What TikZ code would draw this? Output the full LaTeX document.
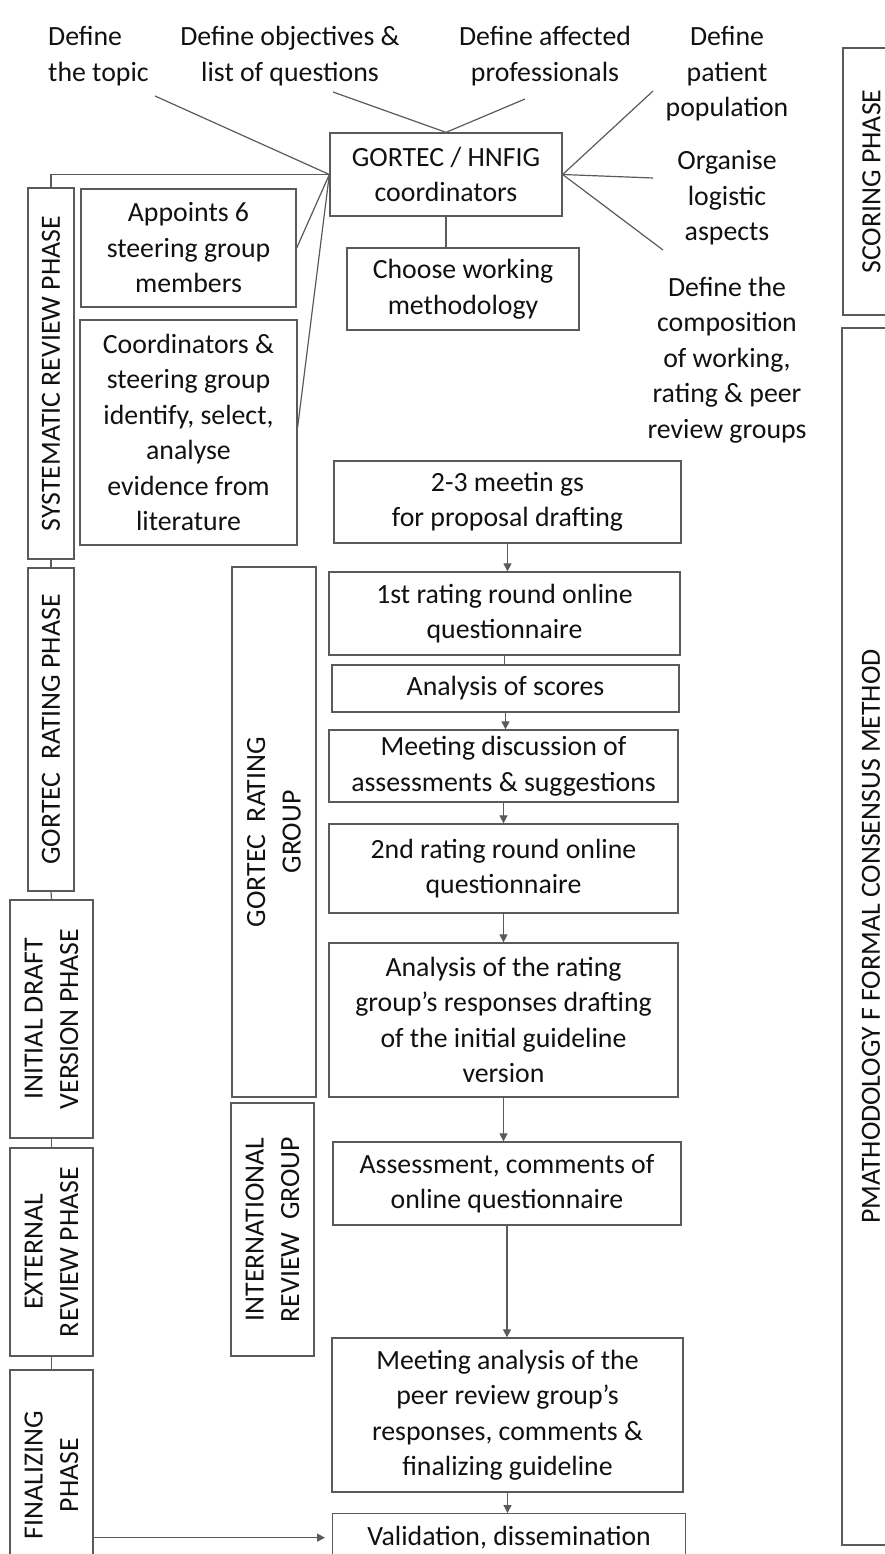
\documentclass[tikz,border=0pt]{standalone}
\usepackage{fontspec}
\setmainfont{Carlito}
\usetikzlibrary{arrows.meta,calc}
\definecolor{ln}{HTML}{5A5A5A}
\definecolor{tx}{HTML}{111111}
\begin{document}
\begin{tikzpicture}[x=1pt,y=-1pt,
  every node/.style={font=\fontsize{27.8}{35.5}\selectfont, text=tx},
  box/.style={draw=ln, line width=1.3pt, align=center, inner sep=2pt},
  lbl/.style={align=center, inner sep=0pt},
  con/.style={draw=ln, line width=1.2pt},
  arr/.style={con, -{Triangle[length=8pt,width=8pt]}}]
\useasboundingbox (0,0) rectangle (885,1554);
\clip (0,0) rectangle (885,1554);

% top labels
\node[lbl, align=left, anchor=west] (topic) at (48,56) {Define\\the topic};
\node[lbl] (obj) at (290,56) {Define objectives \&\\list of questions};
\node[lbl] (aff) at (545,56) {Define affected\\professionals};
\node[lbl] (pat) at (727,74) {Define\\patient\\population};
\node[lbl] (org) at (727,198) {Organise\\logistic\\aspects};
\node[lbl] (comp) at (727,360) {Define the\\composition\\of working,\\rating \& peer\\review groups};

% central boxes
\node[box, minimum width=232pt, minimum height=83pt] (gortec) at (446,174.5) {GORTEC / HNFIG\\coordinators};
\node[box, minimum width=232pt, minimum height=82pt] (choose) at (463,289) {Choose working\\methodology};
\node[box, minimum width=215pt, minimum height=118pt] (appoints) at (188.5,248) {Appoints 6\\steering group\\members};
\node[box, minimum width=217pt, minimum height=225pt] (coord) at (188.5,432.5) {Coordinators \&\\steering group\\identify, select,\\analyse\\evidence from\\literature};

% phase boxes (left)
\node[box, rotate=90, minimum width=371pt, minimum height=46pt] (sysphase) at (51,373.5) {SYSTEMATIC REVIEW PHASE};
\node[box, rotate=90, minimum width=323pt, minimum height=46pt] (ratphase) at (51,729.5) {GORTEC\ \ RATING PHASE};
\node[box, rotate=90, minimum width=238pt, minimum height=83pt] (initphase) at (51.5,1019) {INITIAL DRAFT\\VERSION PHASE};
\node[box, rotate=90, minimum width=208pt, minimum height=83pt] (extphase) at (51.5,1252) {EXTERNAL\\REVIEW PHASE};
\node[box, rotate=90, minimum width=210pt, minimum height=83pt] (finphase) at (51.5,1475) {FINALIZING\\PHASE};

% group boxes
\node[box, rotate=90, minimum width=530pt, minimum height=84pt] (ratgroup) at (274,832) {GORTEC\ \ RATING\\GROUP};
\node[box, rotate=90, minimum width=253pt, minimum height=83pt] (intgroup) at (272.5,1229.5) {INTERNATIONAL\\REVIEW\ \ GROUP};

% right column steps
\node[box, minimum width=347pt, minimum height=82pt] (meet23) at (507.5,502) {2-3 meetin gs\\for proposal drafting};
\node[box, minimum width=351pt, minimum height=83pt] (first) at (504.5,613.5) {1st rating round online\\questionnaire};
\node[box, minimum width=347pt, minimum height=47pt] (scores) at (505.5,688.5) {Analysis of scores};
\node[box, minimum width=349pt, minimum height=72pt] (meetdisc) at (503.5,766) {Meeting discussion of\\assessments \& suggestions};
\node[box, minimum width=349pt, minimum height=89pt] (second) at (503.5,868.5) {2nd rating round online\\questionnaire};
\node[box, minimum width=349pt, minimum height=154pt] (analysis) at (503.5,1020) {Analysis of the rating\\group’s responses drafting\\of the initial guideline\\version};
\node[box, minimum width=348pt, minimum height=83pt] (assess) at (507,1183.5) {Assessment, comments of\\online questionnaire};
\node[box, minimum width=351pt, minimum height=154pt] (meetpeer) at (507.5,1415) {Meeting analysis of the\\peer review group’s\\responses, comments \&\\finalizing guideline};
\node[box, anchor=north west, minimum width=353pt, minimum height=48pt] (valid) at (332,1513) {Validation, dissemination};

% far right boxes
\node[box, rotate=90, minimum width=267pt, minimum height=57pt] (scoring) at (871.5,181.5) {SCORING PHASE};
\node[box, rotate=90, minimum width=1217pt, minimum height=58pt] (pmeth) at (871,936.5) {PMATHODOLOGY F FORMAL CONSENSUS METHOD};

% connector ends
\coordinate (tTopic) at (155,96);
\coordinate (tObj) at (333,92);
\coordinate (tAff) at (525,99);
\coordinate (tPat) at (653,91);
\coordinate (tOrg) at (653,178);
\coordinate (tComp) at (663,250);

% connectors from coordinators
\draw[con] (tTopic) -- (gortec.west);
\draw[con] (gortec.west) -- (sysphase.east |- gortec.west) -- (sysphase.east);
\draw[con] (gortec.west) -- (appoints.east);
\draw[con] (gortec.west) -- ($(coord.east)+(0,-5.5)$);
\draw[con] (tObj) -- (gortec.north);
\draw[con] (tAff) -- (gortec.north);
\draw[con] (gortec.east) -- (tPat);
\draw[con] (gortec.east) -- (tOrg);
\draw[con] (gortec.east) -- (tComp);
\draw[con] (gortec.south) -- (gortec.south |- choose.north);

% phase chain
\draw[con] (sysphase.west) -- (ratphase.east);
\draw[con] (ratphase.west) -- (initphase.east);
\draw[con] (initphase.west) -- (extphase.east);
\draw[con] (extphase.west) -- (finphase.east);
\draw[arr, shorten >=7pt] (finphase.south |- valid.west) -- (valid.west);

% step chain
\draw[arr] (meet23.south) -- (meet23.south |- first.north);
\draw[con] (first.south) -- (first.south |- scores.north);
\draw[arr] (scores.south) -- (scores.south |- meetdisc.north);
\draw[arr] (meetdisc.south) -- (meetdisc.south |- second.north);
\draw[arr] (second.south) -- (second.south |- analysis.north);
\draw[arr] (analysis.south) -- (analysis.south |- assess.north);
\draw[arr] (assess.south) -- (assess.south |- meetpeer.north);
\draw[arr] (meetpeer.south) -- (meetpeer.south |- valid.north);
\end{tikzpicture}
\end{document}
